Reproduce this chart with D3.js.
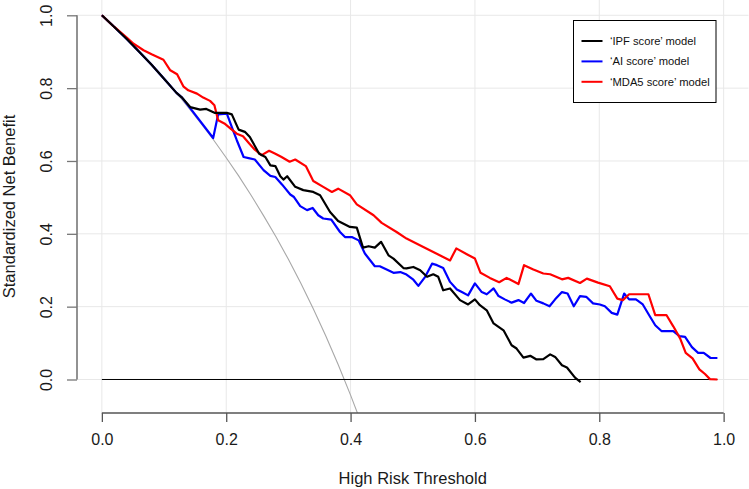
<!DOCTYPE html>
<html>
<head>
<meta charset="utf-8">
<script src="https://cdn.jsdelivr.net/npm/d3@7"></script>
<style>
  html, body { margin: 0; padding: 0; background: #fff; }
  svg { display: block; font-family: "Liberation Sans", Arial, sans-serif; }
</style>
</head>
<body>
<svg id="chart" width="749" height="489"></svg>
<script>
// ---- data ----
const xTicks = [0, 0.2, 0.4, 0.6, 0.8, 1.0];
const yTicks = [0, 0.2, 0.4, 0.6, 0.8, 1.0];
const seriesNames = ["\u2018IPF score\u2019 model", "\u2018AI score\u2019 model", "\u2018MDA5 score\u2019 model"];
const seriesColors = ["#000000", "#0000ff", "#ff0000"];

// treat-all reference curve (grey)
const treatAll = [[0,1.0],[0.02,0.968],[0.04,0.935],[0.06,0.900],[0.08,0.864],[0.10,0.826],[0.12,0.787],
  [0.14,0.745],[0.16,0.702],[0.18,0.657],[0.20,0.609],[0.22,0.559],[0.24,0.506],[0.26,0.450],[0.28,0.392],
  [0.30,0.330],[0.32,0.264],[0.34,0.194],[0.36,0.120],[0.38,0.041],[0.40,-0.043],[0.42,-0.132]];

// treat-none line
const treatNone = [[0,0],[0.99,0]];

const ipf = [[0,1.0],[0.02,0.968],[0.04,0.935],[0.06,0.900],[0.08,0.864],[0.10,0.826],[0.12,0.787],[0.129,0.774],
  [0.142,0.748],[0.158,0.741],[0.168,0.743],[0.182,0.732],[0.201,0.732],[0.209,0.728],[0.220,0.686],[0.230,0.680],
  [0.238,0.666],[0.253,0.620],[0.263,0.611],[0.271,0.588],[0.279,0.586],[0.287,0.558],[0.292,0.549],[0.298,0.558],
  [0.311,0.529],[0.324,0.520],[0.340,0.515],[0.351,0.506],[0.367,0.460],[0.380,0.435],[0.399,0.419],[0.410,0.417],
  [0.420,0.362],[0.429,0.366],[0.439,0.362],[0.449,0.378],[0.461,0.341],[0.469,0.332],[0.485,0.306],[0.490,0.305],
  [0.501,0.309],[0.512,0.300],[0.523,0.282],[0.533,0.289],[0.541,0.282],[0.549,0.245],[0.560,0.250],[0.576,0.218],
  [0.589,0.206],[0.600,0.220],[0.608,0.204],[0.619,0.190],[0.630,0.154],[0.646,0.135],[0.659,0.094],[0.667,0.085],
  [0.678,0.060],[0.689,0.065],[0.699,0.055],[0.710,0.056],[0.721,0.069],[0.729,0.062],[0.740,0.039],[0.748,0.033],
  [0.761,0.005],[0.770,-0.007]];

const ai = [[0,1.0],[0.02,0.968],[0.04,0.935],[0.06,0.900],[0.08,0.864],[0.10,0.826],[0.12,0.787],[0.129,0.774],
  [0.179,0.663],[0.187,0.728],[0.201,0.730],[0.211,0.684],[0.217,0.657],[0.228,0.611],[0.236,0.608],[0.246,0.604],
  [0.260,0.575],[0.271,0.559],[0.279,0.556],[0.290,0.535],[0.303,0.508],[0.309,0.501],[0.319,0.476],[0.330,0.465],
  [0.339,0.471],[0.348,0.451],[0.356,0.442],[0.369,0.439],[0.383,0.405],[0.391,0.391],[0.402,0.391],[0.413,0.382],
  [0.423,0.346],[0.439,0.311],[0.447,0.311],[0.458,0.302],[0.469,0.293],[0.480,0.295],[0.490,0.288],[0.501,0.274],
  [0.509,0.257],[0.520,0.282],[0.531,0.318],[0.539,0.314],[0.549,0.306],[0.560,0.268],[0.571,0.247],[0.579,0.240],
  [0.589,0.231],[0.600,0.264],[0.611,0.240],[0.619,0.234],[0.630,0.250],[0.638,0.229],[0.648,0.220],[0.659,0.211],
  [0.670,0.218],[0.679,0.210],[0.690,0.236],[0.699,0.216],[0.710,0.209],[0.720,0.201],[0.729,0.220],[0.740,0.240],
  [0.749,0.236],[0.759,0.201],[0.769,0.229],[0.779,0.227],[0.790,0.209],[0.801,0.206],[0.809,0.201],[0.820,0.183],
  [0.829,0.178],[0.840,0.236],[0.848,0.220],[0.859,0.220],[0.870,0.206],[0.880,0.177],[0.890,0.149],[0.900,0.133],
  [0.919,0.133],[0.929,0.119],[0.938,0.117],[0.949,0.089],[0.959,0.073],[0.968,0.073],[0.979,0.059],[0.990,0.059]];

const mda5 = [[0,1.0],[0.02,0.968],[0.04,0.939],[0.051,0.922],[0.067,0.904],[0.080,0.893],[0.099,0.878],[0.110,0.849],
  [0.121,0.838],[0.131,0.805],[0.139,0.794],[0.153,0.785],[0.163,0.774],[0.174,0.765],[0.181,0.753],[0.187,0.712],
  [0.197,0.703],[0.207,0.689],[0.217,0.675],[0.227,0.668],[0.237,0.648],[0.246,0.631],[0.257,0.616],[0.269,0.628],
  [0.279,0.620],[0.289,0.611],[0.302,0.598],[0.311,0.604],[0.328,0.586],[0.340,0.545],[0.356,0.529],[0.370,0.515],
  [0.380,0.524],[0.399,0.506],[0.410,0.481],[0.437,0.451],[0.450,0.430],[0.474,0.405],[0.490,0.387],[0.517,0.364],
  [0.533,0.350],[0.560,0.327],[0.570,0.360],[0.587,0.344],[0.600,0.332],[0.609,0.293],[0.624,0.279],[0.639,0.267],
  [0.651,0.279],[0.670,0.262],[0.679,0.314],[0.694,0.302],[0.710,0.291],[0.721,0.289],[0.740,0.275],[0.750,0.279],
  [0.769,0.265],[0.780,0.277],[0.798,0.266],[0.817,0.256],[0.829,0.222],[0.838,0.218],[0.848,0.234],[0.879,0.234],
  [0.890,0.177],[0.908,0.177],[0.919,0.146],[0.930,0.113],[0.939,0.073],[0.950,0.058],[0.961,0.028],[0.970,0.015],
  [0.978,0.001],[0.990,0.0]];

const seriesData = [ipf, ai, mda5];
const drawOrder = [1, 2, 0]; // AI, MDA5, then IPF on top

// ---- layout ----
const svg = d3.select("#chart");
const plotLeft = 77, plotRight = 748.5, plotTop = 0, plotBottom = 413;
const x = d3.scaleLinear().domain([-0.04, 1.04]).range([plotLeft, plotRight]);
const y = d3.scaleLinear().domain([-0.092, 1.042]).range([plotBottom, plotTop]);
const FONT = "'Liberation Sans', Arial, sans-serif";

svg.append("defs").append("clipPath").attr("id", "clip")
  .append("rect").attr("x", plotLeft).attr("y", plotTop)
  .attr("width", plotRight - plotLeft).attr("height", plotBottom - plotTop);

// grid
const grid = svg.append("g");
grid.selectAll("line.h").data(yTicks).join("line")
  .attr("x1", plotLeft).attr("x2", plotRight)
  .attr("y1", d => y(d)).attr("y2", d => y(d))
  .attr("stroke", "#e8e8e8").attr("stroke-width", 1);
grid.selectAll("line.v").data(xTicks).join("line")
  .attr("y1", plotTop).attr("y2", plotBottom)
  .attr("x1", d => x(d)).attr("x2", d => x(d))
  .attr("stroke", "#e8e8e8").attr("stroke-width", 1);

const line = d3.line().x(d => x(d[0])).y(d => y(d[1]));
const marks = svg.append("g").attr("clip-path", "url(#clip)");

marks.append("path").datum(treatAll).attr("d", line)
  .attr("fill", "none").attr("stroke", "#a8a8a8").attr("stroke-width", 1.1);
marks.append("path").datum(treatNone).attr("d", line)
  .attr("fill", "none").attr("stroke", "#000").attr("stroke-width", 1);

drawOrder.forEach(i => {
  marks.append("path").datum(seriesData[i]).attr("d", line)
    .attr("fill", "none").attr("stroke", seriesColors[i])
    .attr("stroke-width", 2.2).attr("stroke-linejoin", "round");
});

// axes (axis line only spans the tick range, like base R)
const xAxis = d3.axisBottom(x).tickValues(xTicks).tickFormat(d3.format(".1f"))
  .tickSize(9).tickSizeOuter(0).tickPadding(12);
const gx = svg.append("g").attr("transform", `translate(0,${plotBottom})`).call(xAxis);
gx.select(".domain").remove();
gx.append("line").attr("x1", x(xTicks[0])).attr("x2", x(xTicks[xTicks.length - 1]))
  .attr("y1", 0).attr("y2", 0).attr("stroke", "#555").attr("stroke-width", 1.3);
gx.selectAll(".tick line").attr("stroke", "#555").attr("stroke-width", 1.3);
gx.selectAll(".tick text").attr("font-size", 16).attr("fill", "#1a1a1a").attr("font-family", FONT);

const yAxis = d3.axisLeft(y).tickValues(yTicks).tickFormat(d3.format(".1f"))
  .tickSize(10).tickSizeOuter(0);
const gy = svg.append("g").attr("transform", `translate(${plotLeft},0)`).call(yAxis);
gy.select(".domain").remove();
gy.append("line").attr("y1", y(yTicks[0])).attr("y2", y(yTicks[yTicks.length - 1]))
  .attr("x1", 0).attr("x2", 0).attr("stroke", "#777").attr("stroke-width", 1.6);
gy.selectAll(".tick line").attr("stroke", "#777").attr("stroke-width", 1.3);
gy.selectAll(".tick text").remove();
gy.selectAll(".tick").append("text")
  .attr("transform", "translate(-25,0) rotate(-90)")
  .attr("text-anchor", "middle")
  .attr("font-size", 16).attr("fill", "#1a1a1a").attr("font-family", FONT)
  .text(d => d3.format(".1f")(d));

// axis titles (centred on the plot region)
svg.append("text").attr("x", (plotLeft + plotRight) / 2).attr("y", 484)
  .attr("text-anchor", "middle").attr("font-size", 16.5).attr("fill", "#1a1a1a")
  .text("High Risk Threshold");
svg.append("text").attr("transform", `translate(15,${(plotTop + plotBottom) / 2}) rotate(-90)`)
  .attr("text-anchor", "middle").attr("font-size", 16.5).attr("fill", "#1a1a1a")
  .text("Standardized Net Benefit");

// legend
const lg = svg.append("g");
lg.append("rect").attr("x", 573.5).attr("y", 20.5).attr("width", 142.5).attr("height", 82)
  .attr("fill", "#fff").attr("stroke", "#000").attr("stroke-width", 1);
seriesNames.forEach((name, i) => {
  const yy = 41 + i * 20.4;
  lg.append("line").attr("x1", 581.5).attr("x2", 602.5).attr("y1", yy).attr("y2", yy)
    .attr("stroke", seriesColors[i]).attr("stroke-width", 2);
  lg.append("text").attr("x", 610).attr("y", yy + 4).attr("font-size", 11.2).attr("fill", "#111")
    .text(name);
});
</script>
</body>
</html>
